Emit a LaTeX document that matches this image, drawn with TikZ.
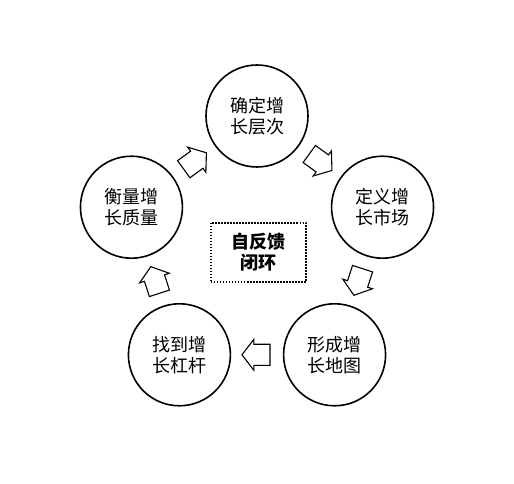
\documentclass[tikz,border=0pt]{standalone}
\usepackage{fontspec}
\setmainfont{Noto Sans CJK SC}
\usepackage{tikz}
\usetikzlibrary{shapes.arrows, calc}
\tikzset{
  stage/.style={circle, draw=black, line width=1.6pt, minimum size=102pt,
                inner sep=0pt, align=center, font=\fontsize{18}{21}\selectfont},
  turn/.style={single arrow, draw=black, fill=white, line width=1.1pt,
               minimum height=28pt, inner xsep=3pt, inner ysep=10pt,
               single arrow head extend=5pt, single arrow tip angle=105,
               rotate=#1, xshift=-3pt},
  loopbox/.style={draw=black, line width=1.5pt,
                  dash pattern=on 1.5pt off 1.5pt,
                  minimum width=95pt, minimum height=59pt, align=center,
                  font=\fontsize{18}{21}\selectfont\bfseries},
}

\begin{document}
\begin{tikzpicture}[x=1pt, y=1pt]
  \useasboundingbox (-257,-236) rectangle (257,248);
  %% the five stages
  \node[stage] (level)   at (90:132)  {确定增\\长层次};
  \node[stage] (market)  at (18:132)  {定义增\\长市场};
  \node[stage] (map)     at (-54:132) {形成增\\长地图};
  \node[stage] (lever)   at (-126:132){找到增\\长杠杆};
  \node[stage] (quality) at (162:132) {衡量增\\长质量};
  %% arrows round the loop
  \foreach \a/\b/\dir in {level/market/-36, market/map/-108, map/lever/180,
                          lever/quality/108, quality/level/36}
    \node[turn=\dir] (t-\a) at ($(\a)!0.5!(\b)$) {};
  %% centre
  \node[loopbox] (loop) at (1.5,-4.5) {自反馈\\闭环};
\end{tikzpicture}
\end{document}
